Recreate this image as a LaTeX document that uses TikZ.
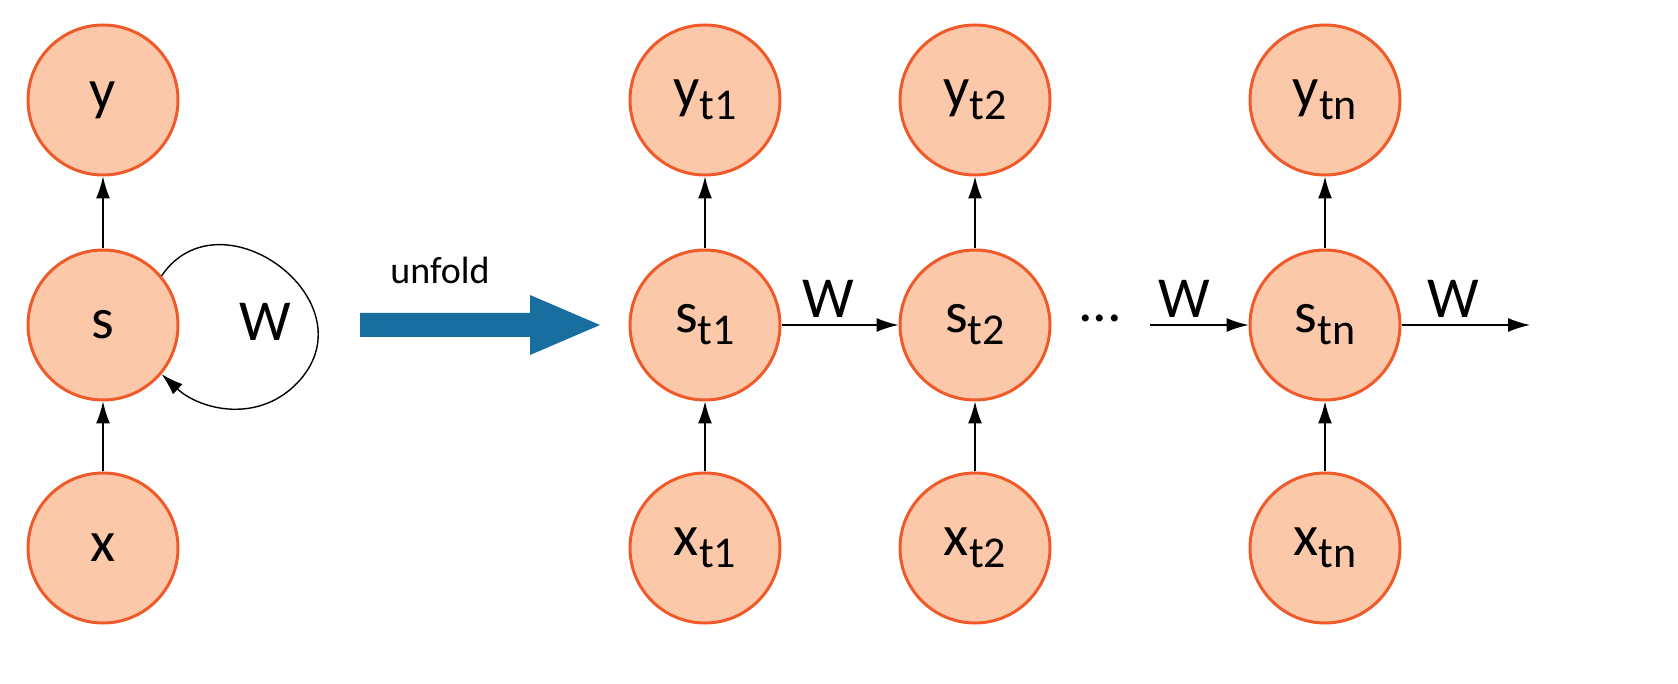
\documentclass[tikz,border=0pt]{standalone}
\usepackage{fontspec}
\setmainfont{Carlito}
\usetikzlibrary{arrows.meta}
\definecolor{nodefill}{RGB}{252,200,170}
\definecolor{nodeline}{RGB}{240,90,40}
\definecolor{ublue}{RGB}{25,110,160}
\newcommand{\subtx}[1]{\raisebox{-6pt}{\fontsize{22}{26}\selectfont #1}}
\begin{document}
\begin{tikzpicture}[x=0.5pt,y=-0.5pt,
  n/.style={circle,draw=nodeline,line width=1.5pt,fill=nodefill,minimum size=75pt,inner sep=0pt,font=\fontsize{29}{33}\selectfont},
  a/.style={-{Latex[length=11pt,width=7pt]},line width=0.7pt},
  lab/.style={font=\fontsize{29}{33}\selectfont}]
\useasboundingbox (0,0) rectangle (1678,684);
\node[n] (y) at (103,100) {y};
\node[n] (s) at (103,325) {s};
\node[n] (x) at (103,548) {x};
\draw[a] (x) -- (s);
\draw[a] (s) -- (y);
\draw[a] (s.40) .. controls (220,190) and (370,300) .. (300,380) .. controls (260,425) and (200,410) .. (s.-40);
\node[lab] (w0) at (265,322) {W};
\node[font=\fontsize{19}{23}\selectfont] (unf) at (440,270) {unfold};
\fill[ublue] (360,313) -- (530,313) -- (530,295) -- (600,325) -- (530,355) -- (530,337) -- (360,337) -- cycle;
\foreach \i/\xx/\t in {1/705/t1,2/975/t2,3/1325/tn}{
  \node[n] (y\i) at (\xx,100) {y\subtx{\t}};
  \node[n] (s\i) at (\xx,325) {s\subtx{\t}};
  \node[n] (x\i) at (\xx,548) {x\subtx{\t}};
  \draw[a] (x\i) -- (s\i);
  \draw[a] (s\i) -- (y\i);
}
\draw[a] (s1) -- node[lab,above,pos=0.4] {W} (s2);
\node[lab] (dots) at (1100,318) {...};
\coordinate (c1) at (1150,325);
\draw[a] (c1) -- node[lab,above,pos=0.35] {W} (s3);
\coordinate (c2) at (1530,325);
\draw[a] (s3) -- node[lab,above,pos=0.4] {W} (c2);
\end{tikzpicture}
\end{document}
